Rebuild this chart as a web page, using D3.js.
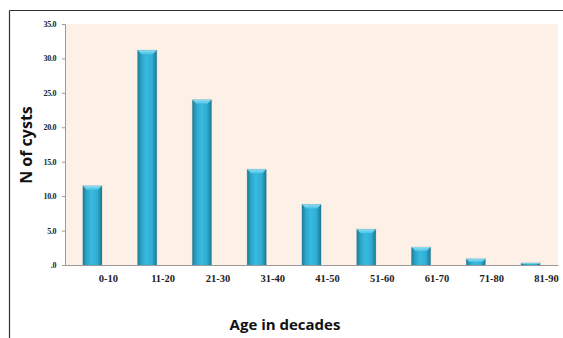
<!DOCTYPE html>
<html><head><meta charset="utf-8">
<script src="https://cdn.jsdelivr.net/npm/d3@7"></script>
<style>html,body{margin:0;padding:0;background:#fff;}svg{display:block;}</style>
</head><body>
<script>
const categories = ["0-10","11-20","21-30","31-40","41-50","51-60","61-70","71-80","81-90"];
const values = [11.5, 31.2, 24.0, 13.9, 8.8, 5.2, 2.6, 0.9, 0.3];
const yTicks = [0, 5, 10, 15, 20, 25, 30, 35];

const W = 563, H = 338;
const plot = {left: 65, right: 558, top: 24, bottom: 265};

const svg = d3.select("body").append("svg").attr("width", W).attr("height", H);

// frame lines
svg.append("line").attr("x1", 9.5).attr("x2", W).attr("y1", 10.5).attr("y2", 10.5)
  .attr("stroke", "#333").attr("stroke-width", 1.2);
svg.append("line").attr("x1", 9.5).attr("x2", 9.5).attr("y1", 10.5).attr("y2", H)
  .attr("stroke", "#333").attr("stroke-width", 1.2);

const x = d3.scaleBand().domain(categories).range([plot.left, plot.right])
  .paddingInner(0.65).paddingOuter(0.325);
const y = d3.scaleLinear().domain([0, 35]).range([plot.bottom, plot.top]);

// plot background
svg.append("rect").attr("x", plot.left + 1).attr("y", plot.top)
  .attr("width", plot.right - plot.left - 1).attr("height", plot.bottom - plot.top)
  .attr("fill", "#fdf1e7");

const defs = svg.append("defs");
const g = defs.append("linearGradient").attr("id", "barGrad").attr("x1", "0").attr("x2", "1").attr("y1", "0").attr("y2", "0");
[["0%", "#1a7894"], ["18%", "#2aa2c6"], ["45%", "#38bbe0"], ["75%", "#31add3"], ["100%", "#197893"]]
  .forEach(([o, c]) => g.append("stop").attr("offset", o).attr("stop-color", c));
const gb = defs.append("linearGradient").attr("id", "bevGrad").attr("x1", "0").attr("x2", "0").attr("y1", "0").attr("y2", "1");
[["0%", "#8fdcf2"], ["100%", "#4cc3e6"]].forEach(([o, c]) => gb.append("stop").attr("offset", o).attr("stop-color", c));

const bars = svg.append("g").selectAll("g").data(categories).join("g");
bars.append("rect")
  .attr("x", d => x(d) - 0.5).attr("y", (d, i) => y(values[i]) - 0.5)
  .attr("width", x.bandwidth() + 1).attr("height", (d, i) => y(0) - y(values[i]) + 0.5)
  .attr("fill", "#c9c2bb").attr("opacity", 0.6);
bars.append("rect")
  .attr("x", d => x(d)).attr("y", (d, i) => y(values[i]))
  .attr("width", x.bandwidth()).attr("height", (d, i) => y(0) - y(values[i]))
  .attr("fill", "url(#barGrad)");
bars.append("path")
  .attr("d", (d, i) => {
    const x0 = x(d), x1 = x(d) + x.bandwidth(), t = y(values[i]);
    const h = Math.min(4, (y(0) - t) / 2);
    const inset = Math.min(4, h);
    return `M${x0},${t}L${x1},${t}L${x1 - inset},${t + h}L${x0 + inset},${t + h}Z`;
  })
  .attr("fill", "url(#bevGrad)");

// y axis
const yAxis = d3.axisLeft(y).tickValues(yTicks).tickSize(3).tickPadding(6)
  .tickFormat(v => v === 0 ? ".0" : v.toFixed(1));
const ya = svg.append("g").attr("transform", `translate(${plot.left},0)`).call(yAxis);
ya.select(".domain").attr("stroke", "#999");
ya.selectAll(".tick line").attr("stroke", "#999");
ya.selectAll(".tick text").attr("font-family", "'Liberation Serif', serif")
  .attr("font-weight", "bold").attr("font-size", 8).attr("fill", "#222")
  .attr("letter-spacing", "-0.4");

// x axis
const xAxis = d3.axisBottom(x).tickSize(0).tickPadding(10);
const xa = svg.append("g").attr("transform", `translate(0,${plot.bottom})`).call(xAxis);
xa.select(".domain").attr("stroke", "#999");
xa.selectAll(".tick text").attr("font-family", "'Liberation Serif', serif")
  .attr("font-weight", "bold").attr("font-size", 10.5).attr("fill", "#222")
  .attr("dx", 16);

// axis titles
svg.append("text").attr("transform", `translate(32,${145}) rotate(-90)`)
  .attr("text-anchor", "middle").attr("font-family", "'Open Sans', sans-serif")
  .attr("font-weight", "bold").attr("font-size", 16).attr("fill", "#111").text("N of cysts");
svg.append("text").attr("x", 285).attr("y", 330)
  .attr("text-anchor", "middle").attr("font-family", "'Open Sans', sans-serif")
  .attr("font-weight", "bold").attr("font-size", 15).attr("fill", "#111").text("Age in decades");
</script>
</body></html>
